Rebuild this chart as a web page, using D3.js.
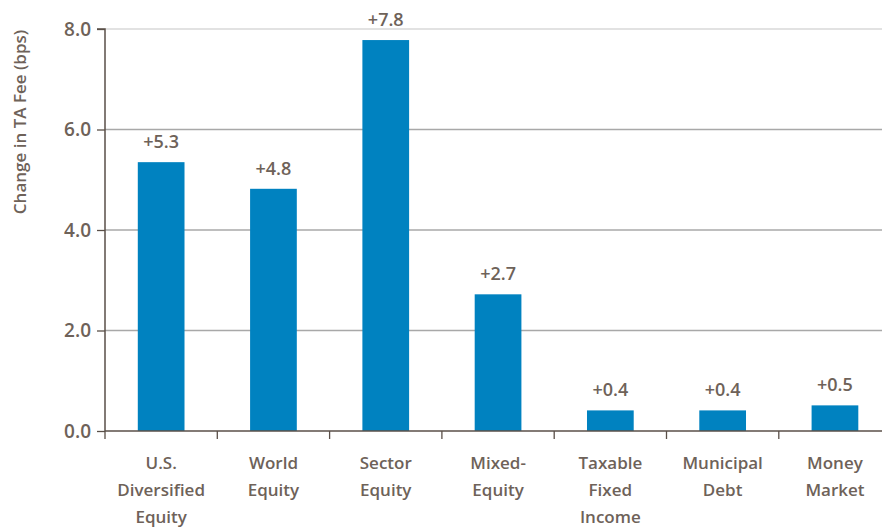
<!DOCTYPE html>
<html>
<head>
<meta charset="utf-8">
<script src="https://cdn.jsdelivr.net/npm/d3@7"></script>
<style>
  body { margin: 0; background: #fff; }
  svg { display: block; font-family: "Open Sans", Lato, sans-serif; }
</style>
</head>
<body>
<svg id="chart" width="882" height="527"></svg>
<script>
// Fund categories (line-broken labels) and change in TA fee (bps)
const categories = [
  ["U.S.", "Diversified", "Equity"],
  ["World", "Equity"],
  ["Sector", "Equity"],
  ["Mixed-", "Equity"],
  ["Taxable", "Fixed", "Income"],
  ["Municipal", "Debt"],
  ["Money", "Market"]
];
const values = [5.35, 4.82, 7.78, 2.72, 0.41, 0.41, 0.51];
const valueLabels = ["+5.3", "+4.8", "+7.8", "+2.7", "+0.4", "+0.4", "+0.5"];
const yTicks = [0, 2, 4, 6, 8];
const yTitle = "Change in TA Fee (bps)";

const TEXT = "#6e6259";
const AXIS = "#5a4f48";
const BAR = "#0082c0";
const FONT = '"Open Sans", Lato, sans-serif';

const svg = d3.select("#chart");
const margin = { left: 105, top: 29, bottom: 96 };
const plotH = 527 - margin.top - margin.bottom;
const bandW = 112.3;

const keys = categories.map((c, i) => i);
const x = d3.scaleBand()
  .domain(keys)
  .range([margin.left, margin.left + bandW * keys.length])
  .paddingInner(0.584)
  .paddingOuter(0.292);

const y = d3.scaleLinear().domain([0, 8]).range([margin.top + plotH, margin.top]);

// Gridlines
svg.append("g")
  .selectAll("line")
  .data(yTicks.filter(d => d > 0))
  .join("line")
  .attr("x1", margin.left).attr("x2", 882)
  .attr("y1", d => y(d)).attr("y2", d => y(d))
  .attr("stroke", d => d === 8 ? "#d9d9d9" : "#a8a8a8")
  .attr("stroke-width", 1.3);

// Bars
svg.append("g")
  .selectAll("rect")
  .data(values)
  .join("rect")
  .attr("x", (d, i) => x(i))
  .attr("width", x.bandwidth())
  .attr("y", d => y(d))
  .attr("height", d => y(0) - y(d))
  .attr("fill", BAR);

// Value labels
svg.append("g")
  .selectAll("text")
  .data(values)
  .join("text")
  .attr("x", (d, i) => x(i) + x.bandwidth() / 2)
  .attr("y", d => y(d) - 14)
  .attr("text-anchor", "middle")
  .attr("fill", TEXT)
  .attr("font-size", "18px")
  .attr("font-weight", 600)
  .text((d, i) => valueLabels[i]);

// Y axis
const yAxis = svg.append("g")
  .attr("transform", `translate(${margin.left},0)`)
  .call(d3.axisLeft(y).tickValues(yTicks).tickFormat(d3.format(".1f")).tickSize(8).tickPadding(6));
yAxis.select(".domain").attr("stroke", AXIS).attr("stroke-width", 1.5).attr("d", `M-8,${y(8)}H0V${y(0)}`);
yAxis.selectAll(".tick line").attr("stroke", AXIS).attr("stroke-width", 1.3);
yAxis.selectAll(".tick text")
  .attr("fill", TEXT).attr("font-size", "19px").attr("font-weight", 600)
  .attr("font-family", FONT);

// X axis baseline and boundary ticks
svg.append("line")
  .attr("x1", margin.left).attr("x2", 882)
  .attr("y1", y(0)).attr("y2", y(0))
  .attr("stroke", AXIS).attr("stroke-width", 1.5);
svg.append("g")
  .selectAll("line")
  .data(keys)
  .join("line")
  .attr("x1", d => margin.left + d * x.step())
  .attr("x2", d => margin.left + d * x.step())
  .attr("y1", y(0)).attr("y2", y(0) + 8)
  .attr("stroke", AXIS).attr("stroke-width", 1.3);

// Category labels
const catG = svg.append("g")
  .selectAll("text")
  .data(categories)
  .join("text")
  .attr("x", (d, i) => x(i) + x.bandwidth() / 2)
  .attr("y", y(0) + 38)
  .attr("text-anchor", "middle")
  .attr("fill", TEXT)
  .attr("font-size", "17px")
  .attr("font-weight", 600);
catG.selectAll("tspan")
  .data(d => d)
  .join("tspan")
  .attr("x", function () { return this.parentNode.getAttribute("x"); })
  .attr("dy", (d, i) => i === 0 ? 0 : 27)
  .text(d => d);

// Y title
svg.append("text")
  .attr("transform", `translate(26,122) rotate(-90)`)
  .attr("text-anchor", "middle")
  .attr("fill", TEXT)
  .attr("font-size", "17px")
  .attr("font-weight", 600)
  .text(yTitle);
</script>
</body>
</html>
